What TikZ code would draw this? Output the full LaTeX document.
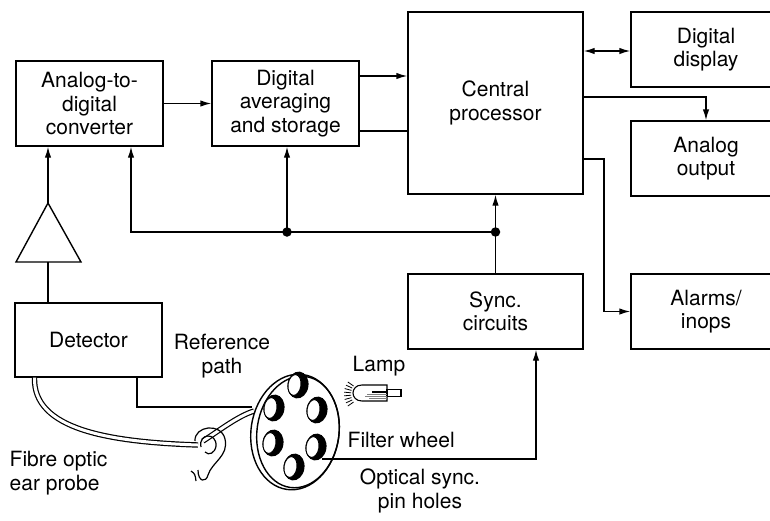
\documentclass[tikz,border=0pt]{standalone}
\usepackage{fontspec}
\setmainfont{TeX Gyre Heros}
\usetikzlibrary{arrows.meta}

\begin{document}
\begin{tikzpicture}[x=1pt, y=-1pt, line width=1.4pt,
      >={Latex[length=11pt,width=6.5pt]},
      font=\fontsize{21}{23.5}\selectfont,
      block/.style={draw, align=center, inner sep=0pt},
      dot/.style={circle, fill, inner sep=0pt, minimum size=9.5pt},
      tag/.style={align=center, inner sep=0pt}]
      \path[use as bounding box, clip] (0,0) rectangle (770,520);

      % blocks
      \node[block, minimum width=147pt, minimum height=85pt] (adc) at (89.5,103.5) {Analog-to-\\digital\\converter};
      \node[block, minimum width=147pt, minimum height=85pt] (avg) at (285.5,103.5) {Digital\\averaging\\and storage};
      \node[block, minimum width=175pt, minimum height=182pt] (cpu) at (495.5,103) {Central\\processor};
      \node[block, minimum width=150pt, minimum height=75pt] (disp) at (706,49.5) {Digital\\display};
      \node[block, minimum width=150pt, minimum height=75pt] (aout) at (706,158.5) {Analog\\output};
      \node[block, minimum width=150pt, minimum height=75pt] (alarm) at (706,311.5) {Alarms/\\inops};
      \node[block, minimum width=175pt, minimum height=75pt] (sync) at (495.5,311.5) {Sync.\\circuits};
      \node[block, minimum width=147pt, minimum height=74pt] (det) at (88.5,340) {Detector};

      % data path
      \draw[->] (adc) -- (avg);
      \draw[->] (avg.east |- 0,76) -- (cpu.west |- 0,76);
      \draw (avg.east |- 0,131) -- (cpu.west |- 0,131);
      \draw[<->] (cpu.east |- 0,51) -- (disp.west |- 0,51);
      \draw[->] (cpu.east |- 0,97) -| (aout);
      \coordinate (alarmbend) at (604,159);
      \draw[->] (cpu.east |- alarmbend) -- (alarmbend) |- (alarm);

      % amplifier
      \coordinate (amptop) at (48,203);
      \coordinate (ampbot) at (48,262);
      \draw (16,262) -- (amptop) -- (81,262) -- cycle;
      \draw[->] (amptop) -- (amptop |- adc.south);
      \draw (det.north -| ampbot) -- (ampbot);

      % sync bus
      \coordinate (jsync) at (495.5,232);
      \coordinate (javg) at (287,232);
      \coordinate (busend) at (131,232);
      \draw[->] (sync) -- (cpu);
      \draw[->] (jsync) -- (busend) -- (busend |- adc.south);
      \draw[->] (javg) -- (javg |- avg.south);
      \node[dot] (dotsync) at (jsync) {};
      \node[dot] (dotavg) at (javg) {};

      % optics
      \coordinate (refend) at (252,407);
      \draw (det.south -| 137,0) |- (refend);
      \draw[double, double distance=3pt, line width=1.2pt]
            (det.south -| 34.5,0) .. controls (33,430) and (110,442) .. (198,445)
            (203,441) .. controls (220,430) and (238,416) .. (254,411);
      % ear
      \draw[line width=1.2pt] (195,441) .. controls (194,426) and (221,422) .. (225,439)
            .. controls (229,456) and (212,462) .. (208,475)
            .. controls (206,483) and (198,482) .. (198,470);
      \draw[line width=1.2pt] (201,447) .. controls (198,433) and (217,432) .. (216,446)
            .. controls (215,453) and (209,456) .. (205,452);
      \draw[line width=1.2pt] (191,471) .. controls (195,474) .. (196,481);

      % filter wheel
      \draw[fill=white] (295,432) ellipse [x radius=44, y radius=58, rotate=-8];
      \draw (298,432) ellipse [x radius=41, y radius=56, rotate=-8];
      \foreach \hx/\hy in {298/385, 274/408, 317/410, 273/443, 316/447, 294/467} {
        \fill (\hx,\hy) ellipse [x radius=10.5, y radius=13.5, rotate=-8];
        \draw[fill=white, line width=1pt] (\hx-3.5,\hy) ellipse [x radius=6.5, y radius=10.5, rotate=-8];
      }
      \coordinate (pin) at (322,459);
      \draw[->] (pin) -| ([xshift=40.5pt]sync.south);

      % lamp
      \draw[fill=white, line width=1.1pt] (387,385) -- (362,385) .. controls (350,385) and (350,401) .. (362,401) -- (387,401) -- cycle;
      \draw[line width=1.1pt] (387,389.5) rectangle (401,396.5);
      \draw[line width=1.8pt] (372,392) -- (387,392);
      \foreach \ly/\lx in {394.5/367, 396.5/365, 398.5/369} \draw[gray, line width=0.9pt] (\lx,\ly) -- (387,\ly);
      \foreach \a in {145,155,...,215} \draw[line width=0.8pt, shift={(365,394)}] (\a:14) -- (\a:21);

      % labels
      \node[tag] (reflbl) at (222,356) {Reference\\path};
      \node[tag] (lamplbl) at (379,366) {Lamp};
      \node[tag, anchor=west] (wheellbl) at (347,440) {Filter wheel};
      \node[tag] (pinlbl) at (420,491) {Optical sync.\\pin holes};
      \node[tag, align=left, anchor=west] (probelbl) at (9,473) {Fibre optic\\ear probe};
\end{tikzpicture}
\end{document}
